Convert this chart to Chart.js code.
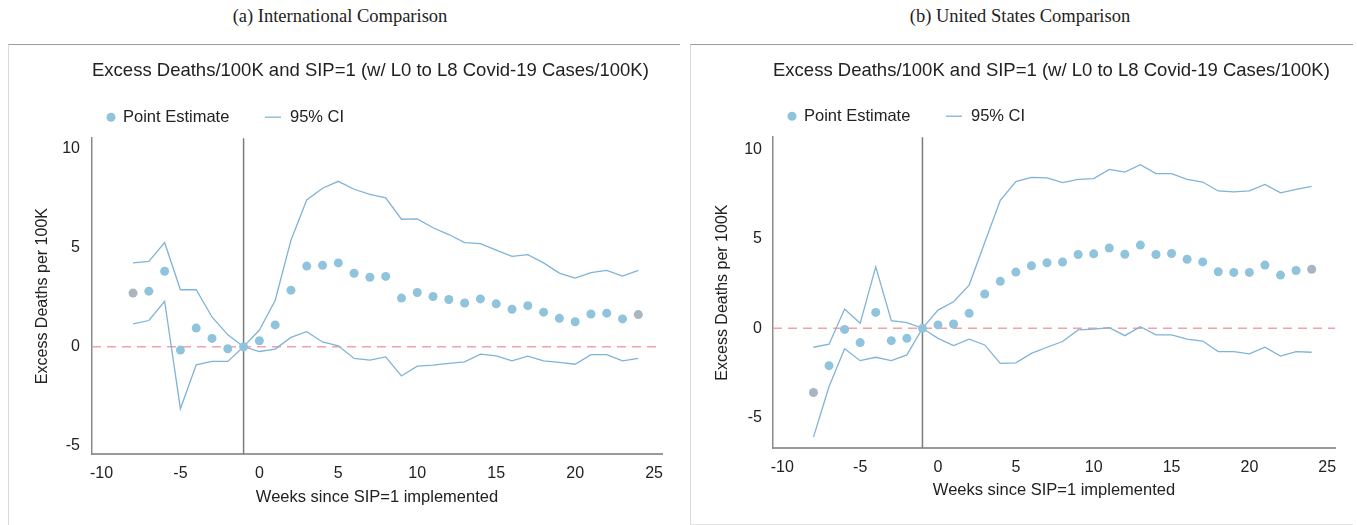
<!DOCTYPE html>
<html>
<head>
<meta charset="utf-8">
<script src="https://cdn.jsdelivr.net/npm/chart.js@4.4.1/dist/chart.umd.min.js"></script>
<style>
body { margin: 0; width: 1357px; height: 525px; background: #fff; position: relative; overflow: hidden; font-family: "Liberation Sans", Arial, sans-serif; }
.cap { position: absolute; top: 6px; width: 400px; text-align: center; font-family: "Liberation Serif", "DejaVu Serif", serif; font-size: 18.5px; color: #222; }
.panel { position: absolute; top: 44px; box-sizing: border-box; border-left: 1px solid #d9d9d9; border-top: 1px solid #9c9c9c; }
.panel div { position: relative; width: 100%; height: 100%; }
</style>
</head>
<body>
<div class="cap" style="left:140px">(a) International Comparison</div>
<div class="cap" style="left:820px">(b) United States Comparison</div>
<div class="panel" style="left:8px;width:672px;height:481px"><div><canvas id="intlChart"></canvas></div></div>
<div class="panel" style="left:690px;width:663px;height:481px;border-bottom:1px solid #e2e2e2"><div><canvas id="usChart"></canvas></div></div>
<script>
// weeks relative to SIP=1
const weeks = [-8, -7, -6, -5, -4, -3, -2, -1, 0, 1, 2, 3, 4, 5, 6, 7, 8, 9, 10, 11, 12, 13, 14, 15, 16, 17, 18, 19, 20, 21, 22, 23, 24];

// (a) International comparison
const intlPoint = [2.7, 2.8, 3.8, -0.17, 0.94, 0.42, -0.1, 0, 0.3, 1.1, 2.85, 4.06, 4.1, 4.22, 3.7, 3.5, 3.54, 2.45, 2.73, 2.53, 2.38, 2.2, 2.41, 2.16, 1.89, 2.07, 1.74, 1.43, 1.26, 1.65, 1.69, 1.4, 1.62];
const intlUpper = [4.22, 4.3, 5.24, 2.87, 2.87, 1.5, 0.6, 0, 0.84, 2.33, 5.36, 7.39, 7.98, 8.33, 7.93, 7.67, 7.5, 6.42, 6.44, 5.99, 5.65, 5.24, 5.19, 4.86, 4.55, 4.64, 4.22, 3.71, 3.46, 3.73, 3.84, 3.56, 3.84];
const intlLower = [1.15, 1.32, 2.29, -3.12, -0.91, -0.74, -0.74, 0, -0.24, -0.12, 0.47, 0.76, 0.24, 0.05, -0.59, -0.67, -0.51, -1.47, -0.98, -0.93, -0.84, -0.76, -0.37, -0.46, -0.71, -0.47, -0.71, -0.79, -0.88, -0.4, -0.4, -0.71, -0.59];

// (b) United States comparison
const usPoint = [-3.59, -2.09, -0.06, -0.8, 0.89, -0.69, -0.56, 0, 0.19, 0.24, 0.84, 1.92, 2.63, 3.15, 3.5, 3.67, 3.71, 4.13, 4.17, 4.5, 4.15, 4.66, 4.13, 4.19, 3.87, 3.72, 3.17, 3.13, 3.13, 3.54, 2.98, 3.24, 3.31];
const usUpper = [-1.06, -0.89, 1.08, 0.28, 3.44, 0.43, 0.32, 0, 1.02, 1.49, 2.42, 4.8, 7.17, 8.21, 8.45, 8.42, 8.16, 8.34, 8.38, 8.9, 8.75, 9.16, 8.66, 8.66, 8.34, 8.19, 7.69, 7.64, 7.69, 8.06, 7.58, 7.78, 7.95];
const usLower = [-6.09, -3.26, -1.14, -1.81, -1.62, -1.81, -1.49, 0, -0.56, -0.97, -0.61, -0.93, -1.96, -1.93, -1.4, -1.06, -0.74, -0.09, -0.04, 0.04, -0.41, 0.09, -0.37, -0.37, -0.6, -0.71, -1.3, -1.3, -1.43, -1.06, -1.55, -1.3, -1.34];

const xTickLabels = [-10, -5, 0, 5, 10, 15, 20, 25];
const yTickLabels = [-5, 0, 5, 10];
const eventWeek = -1;
const zeroLine = 0;

const chartTitle = 'Excess Deaths/100K and SIP=1 (w/ L0 to L8 Covid-19 Cases/100K)';
const xTitle = 'Weeks since SIP=1 implemented';
const yTitle = 'Excess Deaths per 100K';

const dotBlue = '#8fc4dc';
const ciBlue = '#80b3d6';
const endGray = '#a9b6c2';
const fontFamily = '"Liberation Sans", Arial, sans-serif';

function toXY(vals) {
    return weeks.map((w, i) => ({ x: w, y: vals[i] }));
}

// dashed zero line and vertical line at the event week
const refLines = {
    id: 'refLines',
    beforeDatasetsDraw(chart) {
        const { ctx, chartArea: a, scales: { x, y } } = chart;
        ctx.save();
        const y0 = y.getPixelForValue(zeroLine);
        ctx.strokeStyle = '#f2a2aa';
        ctx.lineWidth = 1.5;
        ctx.setLineDash([9, 6]);
        ctx.beginPath();
        ctx.moveTo(a.left, y0);
        ctx.lineTo(a.right, y0);
        ctx.stroke();
        ctx.setLineDash([]);
        const x0 = x.getPixelForValue(eventWeek);
        ctx.strokeStyle = '#7c7c7c';
        ctx.lineWidth = 1.5;
        ctx.beginPath();
        ctx.moveTo(x0, a.top);
        ctx.lineTo(x0, a.bottom);
        ctx.stroke();
        ctx.restore();
    }
};

// legend row: dot + label, line + label
const legendRow = {
    id: 'legendRow',
    afterDraw(chart) {
        const { ctx, chartArea: a } = chart;
        const ly = a.top - 21;
        const sets = chart.data.datasets;
        ctx.save();
        ctx.font = '16.5px ' + fontFamily;
        ctx.textBaseline = 'middle';
        ctx.fillStyle = dotBlue;
        ctx.beginPath();
        ctx.arc(a.left + 19, ly, 4.5, 0, Math.PI * 2);
        ctx.fill();
        ctx.fillStyle = '#222';
        ctx.fillText(sets[0].label, a.left + 31, ly);
        ctx.strokeStyle = ciBlue;
        ctx.lineWidth = 1.3;
        ctx.beginPath();
        ctx.moveTo(a.left + 173, ly);
        ctx.lineTo(a.left + 189, ly);
        ctx.stroke();
        ctx.fillText(sets[1].label, a.left + 198, ly);
        ctx.restore();
    }
};

function makeChart(id, pts, upper, lower, yMin, yMax, lay) {
    const n = pts.length;
    return new Chart(document.getElementById(id).getContext('2d'), {
        type: 'scatter',
        data: {
            datasets: [{
                label: 'Point Estimate',
                data: toXY(pts),
                showLine: false,
                pointRadius: 4.5,
                pointBorderWidth: 0,
                pointBackgroundColor: c => (c.dataIndex === 0 || c.dataIndex === n - 1) ? endGray : dotBlue,
                order: 0
            }, {
                label: '95% CI',
                data: toXY(upper),
                showLine: true,
                borderColor: ciBlue,
                borderWidth: 1.3,
                pointRadius: 0,
                tension: 0,
                order: 1
            }, {
                label: '95% CI lower',
                data: toXY(lower),
                showLine: true,
                borderColor: ciBlue,
                borderWidth: 1.3,
                pointRadius: 0,
                tension: 0,
                order: 1
            }]
        },
        options: {
            responsive: true,
            maintainAspectRatio: false,
            animation: false,
            layout: {
                padding: { left: lay.padLeft, right: 18, top: 0, bottom: lay.padBottom }
            },
            plugins: {
                legend: { display: false },
                tooltip: { enabled: false },
                title: {
                    display: true,
                    text: chartTitle,
                    align: 'start',
                    fullSize: false,
                    color: '#222',
                    font: { family: fontFamily, size: 18.5, weight: 'normal' },
                    padding: { top: 15, bottom: lay.titleGap }
                }
            },
            scales: {
                x: {
                    type: 'linear',
                    min: -10.6,
                    max: 25.5,
                    afterFit: s => { s.height = 60; },
                    afterBuildTicks: s => { s.ticks = xTickLabels.map(v => ({ value: v })); },
                    grid: { display: false, drawTicks: false },
                    border: { display: true, color: '#9a9a9a', width: 2 },
                    ticks: { color: '#222', padding: 10, font: { family: fontFamily, size: 16 } },
                    title: {
                        display: true,
                        text: xTitle,
                        color: '#222',
                        font: { family: fontFamily, size: 16.5 },
                        padding: { top: 0, bottom: lay.xTitlePad }
                    }
                },
                y: {
                    type: 'linear',
                    min: yMin,
                    max: yMax,
                    afterFit: s => { s.width = 64; },
                    afterBuildTicks: s => { s.ticks = yTickLabels.map(v => ({ value: v })); },
                    grid: { display: false, drawTicks: false },
                    border: { display: true, color: '#8a8a8a', width: 1.5 },
                    ticks: { color: '#222', padding: lay.yTickPad, font: { family: fontFamily, size: 16 } },
                    title: {
                        display: true,
                        text: yTitle,
                        color: '#222',
                        font: { family: fontFamily, size: 16 },
                        padding: { top: lay.yTitlePad, bottom: 0 }
                    }
                }
            }
        },
        plugins: [refLines, legendRow]
    });
}

makeChart('intlChart', intlPoint, intlUpper, intlLower, -5.4, 10.5,
    { padLeft: 19, padBottom: 11, titleGap: 56, xTitlePad: 7, yTickPad: 12, yTitlePad: 5 });
makeChart('usChart', usPoint, usUpper, usLower, -6.7, 10.7,
    { padLeft: 18, padBottom: 16, titleGap: 55, xTitlePad: 8, yTickPad: 11, yTitlePad: 4 });
</script>
</body>
</html>
